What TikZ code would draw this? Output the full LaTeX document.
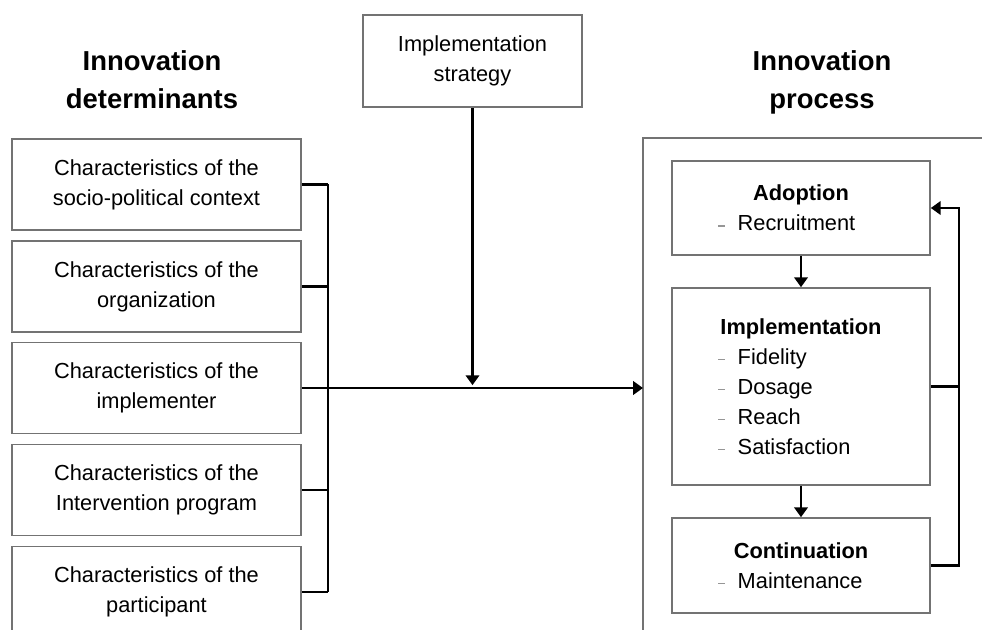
\documentclass[tikz,border=0pt]{standalone}
\usepackage{fontspec}
\setmainfont{Liberation Sans}
\usetikzlibrary{arrows.meta, positioning, calc}

\definecolor{boxgray}{RGB}{115,115,115}
\definecolor{dashgray}{RGB}{150,150,150}
\newcommand{\bodysize}{\fontsize{15.5}{21.3}\selectfont}
\newcommand{\headsize}{\fontsize{19.5}{27}\selectfont\bfseries}
\newcommand{\procitem}[1]{\makebox[118pt][l]{\textcolor{dashgray}{\rule[3pt]{5pt}{0.8pt}}\hspace{9pt}#1}}

\tikzset{
  boxline/.style={draw=boxgray, line width=1.1pt},
  detbox/.style={boxline, minimum width=7.225cm, minimum height=2.275cm, align=center, font=\bodysize, inner sep=0pt},
  stratbox/.style={boxline, minimum width=5.475cm, minimum height=2.3cm, align=center, font=\bodysize, inner sep=0pt},
  procbox/.style={boxline, minimum width=6.45cm, align=center, font=\bodysize, inner sep=0pt},
  headtext/.style={align=center, font=\headsize, inner sep=0pt},
  conn/.style={draw=black, line width=2pt},
  flowarrow/.style={conn, -{Triangle[length=7pt,width=9.5pt]}}
}

\begin{document}
\begin{tikzpicture}[x=0.025cm, y=-0.025cm]
\useasboundingbox (0,0) rectangle (982,630);
\clip (0,0) rectangle (982,630);

% headings
\node[headtext] (dethead) at (152,80) {Innovation\\determinants};
\node[headtext] (prochead) at (822,82) {Innovation\\process};

% determinants
\foreach \nm/\y/\txt in {detcontext/184.5/socio-political context,
  detorg/286.5/organization, detimpl/388/implementer,
  detprog/490/Intervention program, detpart/592/participant}
  \node[detbox] (\nm) at (156.5,\y) {Characteristics of the\\\txt};

\coordinate (bus) at (328,0);
\foreach \nm in {detcontext,detorg,detprog,detpart}
  \draw[conn] (\nm.east) -- (\nm.east -| bus);
\draw[conn] (detcontext.east -| bus) -- (detpart.east -| bus);

% strategy
\node[stratbox] (strategy) at (472.5,61) {Implementation\\strategy};

% process frame
\draw[boxline] (643,700) |- (1100,138);
\coordinate (frameleft) at (643,388);
\draw[flowarrow] (detimpl.east) -- (frameleft);
\draw[flowarrow, shorten >=2pt] (strategy.south) -- (strategy.south |- detimpl.east);

\node[procbox, minimum height=2.35cm] (adopt) at (801,208)
  {\textbf{Adoption}\\\procitem{Recruitment}};
\node[procbox, minimum height=4.925cm] (impl) at (801,386.5)
  {\textbf{Implementation}\\\procitem{Fidelity}\\\procitem{Dosage}\\\procitem{Reach}\\\procitem{Satisfaction}};
\node[procbox, minimum height=2.375cm] (cont) at (801,565.5)
  {\textbf{Continuation}\\\procitem{Maintenance}};

% feedback loop
\coordinate (loop) at (959,0);
\draw[flowarrow] (adopt) -- (impl);
\draw[flowarrow] (impl) -- (cont);
\draw[conn] (impl.east) -- (impl.east -| loop);
\draw[flowarrow] (cont.east) -- (cont.east -| loop) |- (adopt.east);
\end{tikzpicture}
\end{document}
